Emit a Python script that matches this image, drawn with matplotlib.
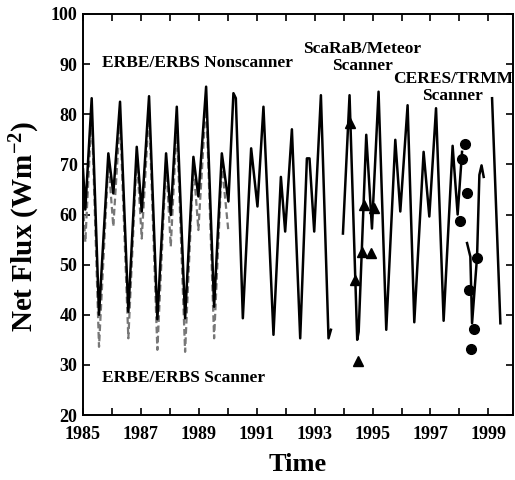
import numpy as np
import matplotlib
matplotlib.use("Agg")
import matplotlib.pyplot as plt

# ERBE/ERBS nonscanner net flux (None = data gap)
nonscanner_year = [
    1985.00, 1985.08, 1985.30, 1985.553, 1985.875,
    1986.047, 1986.279, 1986.566, 1986.856,
    1987.029, 1987.281, 1987.568, 1987.869,
    1988.031, 1988.239, 1988.526, 1988.813,
    1988.985, 1989.252, 1989.528, 1989.794,
    1990.022, 1990.195, 1990.278, 1990.52, 1990.807,
    1991.025, 1991.232, 1991.578, 1991.834,
    1991.982, 1992.214, 1992.501, 1992.732, 1992.822,
    1992.985, 1993.216, 1993.479, 1993.562, None,
    1993.977, 1994.205, 1994.47, 1994.52, 1994.782,
    1994.979, 1995.207, 1995.473, 1995.785,
    1995.958, 1996.21, 1996.441, 1996.763,
    1996.96, 1997.192, 1997.454, 1997.765,
    1997.938, 1998.09, None,
    1998.263, 1998.377, 1998.436, 1998.609, 1998.689, 1998.764, 1998.837, None,
    1999.127, 1999.414,
]
nonscanner_flux = [
    69, 61, 83.2, 40, 72.2,
    64.2, 82.5, 40.6, 73.5,
    60.6, 83.6, 39.1, 72.2,
    59.9, 81.5, 39.3, 71.5,
    63.6, 85.5, 41.6, 72.2,
    62.6, 84.2, 83.2, 39.3, 73.2,
    61.6, 81.5, 36.0, 67.5,
    56.6, 77.0, 35.3, 71.2, 71.2,
    56.6, 83.8, 35.3, 37.0, None,
    56.2, 83.8, 35.0, 36.6, 75.9,
    57.2, 84.5, 37.0, 74.9,
    60.6, 81.8, 38.5, 72.5,
    59.6, 81.2, 38.8, 73.7,
    60.0, 72.5, None,
    54.3, 51.6, 38.3, 51.6, 67.9, 69.8, 67.5, None,
    83.2, 38.3,
]

# ERBE/ERBS scanner net flux
scanner_year = [
    1985.00, 1985.08, 1985.30, 1985.553, 1985.875,
    1986.047, 1986.279, 1986.566, 1986.856,
    1987.029, 1987.281, 1987.568, 1987.869,
    1988.031, 1988.239, 1988.526, 1988.813,
    1988.985, 1989.252, 1989.528, 1989.794, 1990.022,
]
scanner_flux = [
    62, 54.5, 80.5, 33.6, 70.5,
    57.6, 79.2, 35.3, 71.7,
    55.2, 81.0, 33.0, 70.5,
    53.6, 78.0, 32.6, 70.0,
    56.9, 83.0, 35.3, 70.0, 56.6,
]

# ScaRaB/Meteor scanner
scarab_year = [1994.229, 1994.378, 1994.48, 1994.633, 1994.689, 1994.955, 1995.035]
scarab_flux = [78.2, 46.9, 30.8, 52.6, 61.9, 52.4, 61.2]

# CERES/TRMM scanner
ceres_year = [1998.007, 1998.09, 1998.18, 1998.26, 1998.343, 1998.41, 1998.515, 1998.61]
ceres_flux = [58.8, 71.0, 74.0, 64.2, 44.9, 33.1, 37.2, 51.3]

year_ticks = list(range(1985, 2000))
year_labels = [str(y) if y % 2 == 1 else "" for y in year_ticks]
flux_ticks = list(range(20, 101, 10))

plt.rcParams["font.family"] = ["Liberation Serif", "DejaVu Serif"]
plt.rcParams["font.weight"] = "bold"
plt.rcParams["mathtext.fontset"] = "custom"
plt.rcParams["mathtext.rm"] = "Liberation Serif:bold"
plt.rcParams["mathtext.bf"] = "Liberation Serif:bold"
plt.rcParams["mathtext.it"] = "Liberation Serif:bold"


def to_arr(vals):
    return np.array([np.nan if v is None else v for v in vals], dtype=float)


fig = plt.figure(figsize=(5.15, 4.8), dpi=100)
ax = fig.add_axes([83 / 515, 65 / 480, 430 / 515, 401 / 480])

ax.plot(scanner_year, scanner_flux, color="#777777", lw=1.6,
        linestyle=(0, (3, 1.6)))
ax.plot(to_arr(nonscanner_year), to_arr(nonscanner_flux), color="black", lw=1.8)
ax.plot(scarab_year, scarab_flux, linestyle="none", marker="^",
        color="black", markersize=6.5)
ax.plot(ceres_year, ceres_flux, linestyle="none", marker="o",
        color="black", markersize=7)

ax.set_xlim(1985, 1999.85)
ax.set_ylim(20, 100)
ax.set_xticks(year_ticks)
ax.set_xticklabels(year_labels)
ax.set_yticks(flux_ticks)
ax.tick_params(direction="in", top=True, right=True, length=5, width=1.2,
               labelsize=13)
ax.tick_params(axis="x", pad=8)
ax.tick_params(axis="y", pad=4)
for lab in ax.get_xticklabels() + ax.get_yticklabels():
    lab.set_fontweight("bold")
for sp in ax.spines.values():
    sp.set_linewidth(1.4)

ax.set_xlabel("Time", fontsize=19, fontweight="bold", labelpad=7)
ax.set_ylabel("Net Flux (Wm$^{-2}$)", fontsize=21, fontweight="bold")
ax.yaxis.set_label_coords(-0.095, 0.47)

txt = dict(fontsize=12.5, fontweight="bold")
ax.text(1985.65, 90.2, "ERBE/ERBS Nonscanner", ha="left", va="center", **txt)
ax.text(1985.65, 27.4, "ERBE/ERBS Scanner", ha="left", va="center", **txt)
ax.text(1994.64, 91.35, "ScaRaB/Meteor\nScanner", ha="center", va="center",
        linespacing=1.05, **txt)
ax.text(1997.77, 85.35, "CERES/TRMM\nScanner", ha="center", va="center",
        linespacing=1.05, **txt)

fig.savefig("out.png", dpi=100)
